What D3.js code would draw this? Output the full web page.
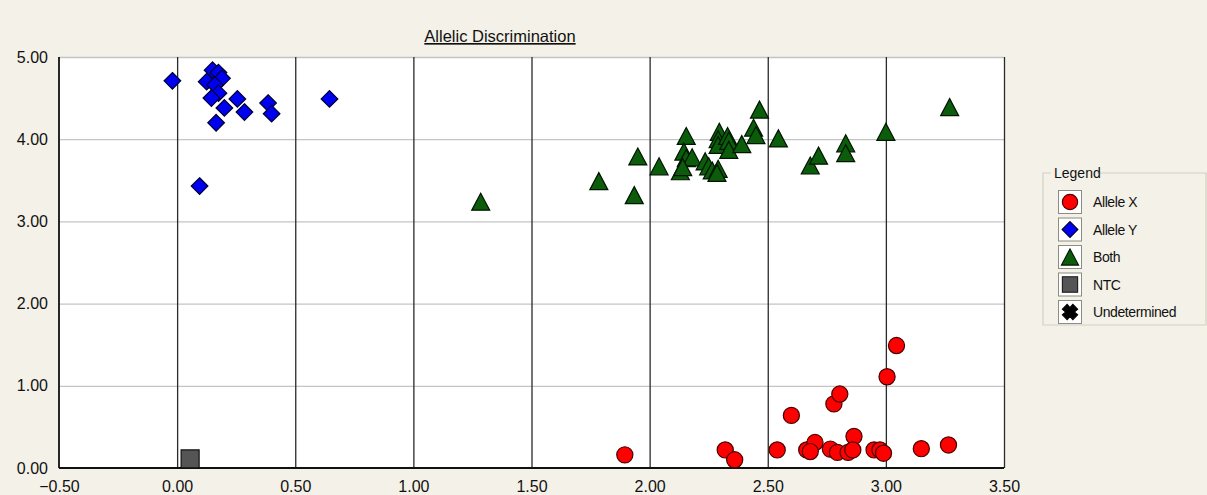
<!DOCTYPE html>
<html>
<head>
<meta charset="utf-8">
<script src="https://cdn.jsdelivr.net/npm/d3@7"></script>
<style>
  html, body { margin: 0; padding: 0; background: #f4f1e8; }
  svg { display: block; }
</style>
</head>
<body>
<svg id="chart" width="1207" height="495"></svg>
<script>
// Allelic discrimination scatter: Allele X vs Allele Y signal
const xTicks = [-0.5, 0, 0.5, 1.0, 1.5, 2.0, 2.5, 3.0, 3.5];
const yTicks = [0, 1, 2, 3, 4, 5];

const alleleX = [
  [1.895, 0.16], [2.32, 0.22], [2.36, 0.10], [2.54, 0.22], [2.60, 0.64],
  [2.78, 0.78], [2.805, 0.90], [3.005, 1.11], [3.045, 1.49], [2.665, 0.22],
  [2.70, 0.31], [2.68, 0.20], [2.765, 0.23], [2.795, 0.19], [2.84, 0.19],
  [2.865, 0.385], [2.86, 0.22], [2.95, 0.22], [2.975, 0.22], [2.99, 0.18],
  [3.15, 0.235], [3.265, 0.28]
];

const alleleY = [
  [-0.02, 4.71], [0.15, 4.84], [0.175, 4.81], [0.19, 4.74], [0.125, 4.70],
  [0.16, 4.66], [0.175, 4.56], [0.145, 4.50], [0.20, 4.38], [0.255, 4.49],
  [0.285, 4.33], [0.165, 4.20], [0.385, 4.44], [0.40, 4.31], [0.645, 4.49],
  [0.095, 3.43]
];

const both = [
  [1.285, 3.24], [1.785, 3.49], [1.935, 3.32], [1.95, 3.79], [2.04, 3.67],
  [2.155, 4.04], [2.145, 3.85], [2.155, 3.77], [2.18, 3.78], [2.13, 3.61],
  [2.14, 3.66], [2.235, 3.73], [2.25, 3.67], [2.265, 3.62], [2.29, 3.64],
  [2.285, 3.59], [2.295, 4.09], [2.29, 4.00], [2.29, 3.93], [2.33, 4.04],
  [2.335, 3.98], [2.335, 3.87], [2.39, 3.94], [2.44, 4.14], [2.45, 4.05],
  [2.465, 4.36], [2.545, 4.01], [2.68, 3.68], [2.715, 3.80], [2.83, 3.95],
  [2.83, 3.83], [3.0, 4.09], [3.27, 4.39]
];

const ntc = [[0.055, 0.11]];
const undetermined = [];

const legendLabels = ["Allele X", "Allele Y", "Both", "NTC", "Undetermined"];

// Marker shapes (local coordinates, centred on the point)
const shapes = {
  circle: d3.symbol(d3.symbolCircle, 205)(),
  diamond: "M0,-8.3L8.3,0L0,8.3L-8.3,0Z",
  triangle: "M0,-8.5L9,8.5L-9,8.5Z",
  square: "M-9,-9H9V9H-9Z",
  cross: "M-3,-8L0,-4.5L3,-8L8,-3L4.5,0L8,3L3,8L0,4.5L-3,8L-8,3L-4.5,0L-8,-3Z"
};

const styles = [
  { data: alleleX, shape: "circle", fill: "#ff0000", stroke: "#4a0000" },
  { data: alleleY, shape: "diamond", fill: "#0000f0", stroke: "#000030" },
  { data: both, shape: "triangle", fill: "#0b5c0b", stroke: "#001400" },
  { data: ntc, shape: "square", fill: "#555555", stroke: "#111111" },
  { data: undetermined, shape: "cross", fill: "#000000", stroke: "#000000" }
];

const svg = d3.select("#chart");
const plotL = 59, plotR = 1004, plotT = 57, plotB = 468;

const x = d3.scaleLinear().domain([-0.5, 3.5]).range([plotL, plotR]);
const y = d3.scaleLinear().domain([0, 5]).range([plotB, plotT]);

// Plot background
svg.append("rect")
  .attr("x", plotL).attr("y", plotT)
  .attr("width", plotR - plotL).attr("height", plotB - plotT)
  .attr("fill", "#ffffff");

// Horizontal grid (light)
svg.append("g")
  .attr("transform", `translate(${plotL},0)`)
  .call(d3.axisLeft(y).tickValues(yTicks.slice(1)).tickSize(-(plotR - plotL)).tickFormat(""))
  .call(g => g.select(".domain").remove())
  .call(g => g.selectAll("line").attr("stroke", "#c4c4c4").attr("stroke-width", 1.3));

// Vertical grid (dark)
svg.append("g")
  .attr("transform", `translate(0,${plotB})`)
  .call(d3.axisBottom(x).tickValues(xTicks.slice(1)).tickSize(-(plotB - plotT)).tickFormat(""))
  .call(g => g.select(".domain").remove())
  .call(g => g.selectAll("line").attr("stroke", "#2a2a2a").attr("stroke-width", 1.3));

// Axis lines
svg.append("line").attr("x1", plotL).attr("x2", plotL).attr("y1", plotT).attr("y2", plotB)
  .attr("stroke", "#111").attr("stroke-width", 1.8);
svg.append("line").attr("x1", plotL).attr("x2", plotR).attr("y1", plotB).attr("y2", plotB)
  .attr("stroke", "#111").attr("stroke-width", 1.8);

// Tick labels
const fmt = d3.format(".2f");
const tickFont = "'Liberation Sans', Arial, sans-serif";
svg.append("g")
  .attr("transform", `translate(${plotL},0)`)
  .call(d3.axisLeft(y).tickValues(yTicks).tickSize(0).tickPadding(11).tickFormat(fmt))
  .call(g => g.select(".domain").remove())
  .call(g => g.selectAll("text")
    .attr("font-family", tickFont)
    .attr("font-size", 16).attr("fill", "#111"));

svg.append("g")
  .attr("transform", `translate(0,${plotB})`)
  .call(d3.axisBottom(x).tickValues(xTicks).tickSize(0).tickPadding(13).tickFormat(fmt))
  .call(g => g.select(".domain").remove())
  .call(g => g.selectAll("text")
    .attr("font-family", tickFont)
    .attr("font-size", 16).attr("fill", "#111"));

// Title
svg.append("text")
  .attr("x", 500).attr("y", 42)
  .attr("text-anchor", "middle")
  .attr("font-family", tickFont)
  .attr("font-size", 16.5)
  .attr("fill", "#111")
  .attr("text-decoration", "underline")
  .text("Allelic Discrimination");

// Markers
const marks = svg.append("g");
styles.forEach(s => {
  marks.append("g").selectAll("path")
    .data(s.data)
    .join("path")
    .attr("d", shapes[s.shape])
    .attr("transform", d => `translate(${x(d[0])},${y(d[1])})`)
    .attr("fill", s.fill)
    .attr("stroke", s.stroke)
    .attr("stroke-width", 1.2);
});

// Legend (group box)
const lg = svg.append("g");
const lx = 1043, ly = 173, lw = 163, lh = 152;
lg.append("path")
  .attr("d", `M${lx + 8},${ly}H${lx}V${ly + lh}H${lx + lw}V${ly}H${lx + 54}`)
  .attr("fill", "none").attr("stroke", "#d3d0c4").attr("stroke-width", 1.2);
lg.append("text")
  .attr("x", lx + 11).attr("y", ly + 5)
  .attr("font-family", tickFont)
  .attr("font-size", 14).attr("fill", "#111")
  .text("Legend");

legendLabels.forEach((label, i) => {
  const cy = 202 + i * 27.5;
  const item = lg.append("g").attr("transform", `translate(1070,${cy})`);
  item.append("rect")
    .attr("x", -11.5).attr("y", -11.5).attr("width", 23).attr("height", 23)
    .attr("fill", "#ffffff").attr("stroke", "#8c8c80").attr("stroke-width", 1);
  item.append("path")
    .attr("d", shapes[styles[i].shape])
    .attr("transform", styles[i].shape === "square" ? "scale(0.85)" : "scale(0.95)")
    .attr("fill", styles[i].fill)
    .attr("stroke", styles[i].stroke)
    .attr("stroke-width", 1.2);
  lg.append("text")
    .attr("x", 1093).attr("y", cy + 5)
    .attr("font-family", tickFont)
    .attr("font-size", 14).attr("fill", "#111")
    .attr("letter-spacing", -0.4)
    .text(label);
});
</script>
</body>
</html>
